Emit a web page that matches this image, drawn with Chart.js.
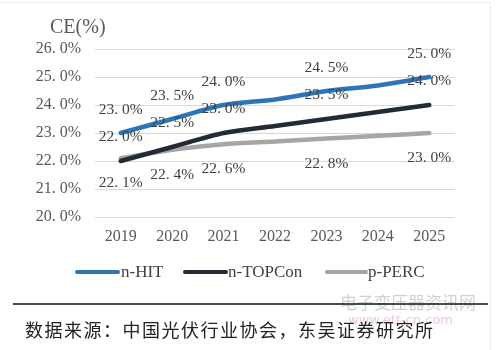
<!DOCTYPE html>
<html><head><meta charset="utf-8">
<script src="https://cdn.jsdelivr.net/npm/chart.js@4"></script>
<style>html,body{margin:0;padding:0;background:#fff}#w{width:500px;height:350px;position:relative}</style>
</head><body><div id="w"><canvas id="c" width="500" height="350"></canvas></div>
<script>
const years = ['2019','2020','2021','2022','2023','2024','2025'];
const hit = [23.0, 23.5, 24.0, 24.2, 24.5, 24.7, 25.0];
const topcon = [22.0, 22.5, 23.0, 23.25, 23.5, 23.75, 24.0];
const perc = [22.1, 22.4, 22.6, 22.7, 22.8, 22.9, 23.0];
const labeledYears = ['2019','2020','2021','2023','2025'];
const yTicks = [20, 21, 22, 23, 24, 25, 26];
const seriesNames = ['n-HIT', 'n-TOPCon', 'p-PERC'];
const axisTitle = 'CE(%)';
const sourceText = '数据来源：中国光伏行业协会，东吴证券研究所';
const watermark1 = '电子变压器资讯网';
const watermark2 = 'www.ett-cn.com';

const fmt = v => v.toFixed(1).replace('.', '. ') + '%';
const SERIF = '"Liberation Serif", "DejaVu Serif", serif';

const decor = {
  id: 'decor',
  afterDatasetsDraw(chart) {
    const ctx = chart.ctx;
    ctx.save();
    ctx.font = '15.5px ' + SERIF;
    ctx.fillStyle = '#404040';
    ctx.textAlign = 'center';
    ctx.textBaseline = 'middle';
    chart.data.datasets.forEach((ds, di) => {
      const meta = chart.getDatasetMeta(di);
      ds.data.forEach((v, i) => {
        if (!labeledYears.includes(chart.data.labels[i])) return;
        const pt = meta.data[i];
        ctx.fillText(fmt(v), pt.x, pt.y + ds.labelOffset);
      });
    });
    ctx.restore();
  },
  afterDraw(chart) {
    const ctx = chart.ctx;
    ctx.save();
    // frame
    ctx.strokeStyle = '#ececec';
    ctx.lineWidth = 1;
    ctx.beginPath();
    ctx.moveTo(0, 2.5); ctx.lineTo(490.5, 2.5); ctx.lineTo(490.5, 350);
    ctx.stroke();
    // axis title
    ctx.font = '20px ' + SERIF;
    ctx.fillStyle = '#595959';
    ctx.textAlign = 'left';
    ctx.textBaseline = 'middle';
    ctx.fillText(axisTitle, 50, 28);
    // legend
    const legendPos = [[77, 118, 121], [185, 226, 228], [327, 366, 368]];
    ctx.font = '17px ' + SERIF;
    ctx.fillStyle = '#404040';
    chart.data.datasets.forEach((ds, di) => {
      const [x0, x1, tx] = legendPos[di];
      ctx.strokeStyle = ds.borderColor;
      ctx.lineWidth = 4;
      ctx.lineCap = 'round';
      ctx.beginPath(); ctx.moveTo(x0, 272); ctx.lineTo(x1, 272); ctx.stroke();
      ctx.fillText(ds.label, tx, 273);
    });
    // watermark
    ctx.font = '17px "Noto Sans CJK SC"';
    ctx.fillStyle = 'rgba(150,150,150,0.45)';
    ctx.fillText(watermark1, 340, 303);
    ctx.font = '13px "DejaVu Sans"';
    ctx.fillStyle = 'rgba(220,140,140,0.45)';
    ctx.fillText(watermark2, 348, 321);
    // rule
    ctx.strokeStyle = '#111';
    ctx.lineWidth = 1.5;
    ctx.lineCap = 'butt';
    ctx.beginPath(); ctx.moveTo(13, 304); ctx.lineTo(488, 304); ctx.stroke();
    // source
    ctx.font = '18px "Noto Sans CJK SC"';
    ctx.fillStyle = '#222';
    if ('letterSpacing' in ctx) ctx.letterSpacing = '1.5px';
    ctx.fillText(sourceText, 25, 330);
    ctx.restore();
  }
};

new Chart(document.getElementById('c'), {
  type: 'line',
  data: {
    labels: years,
    datasets: [
      { label: seriesNames[0], data: hit, borderColor: '#2e75b6', labelOffset: -23 },
      { label: seriesNames[1], data: topcon, borderColor: '#222a35', labelOffset: -24 },
      { label: seriesNames[2], data: perc, borderColor: '#a6a6a6', labelOffset: 25 }
    ].map(d => Object.assign(d, { borderWidth: 4.5, pointRadius: 0, tension: 0.3, fill: false, borderCapStyle: 'round' }))
  },
  options: {
    responsive: false,
    animation: false,
    devicePixelRatio: 1,
    layout: { padding: { left: 0, right: 45, top: 49, bottom: 103 } },
    plugins: { legend: { display: false }, tooltip: { enabled: false }, title: { display: false } },
    scales: {
      x: {
        offset: true,
        grid: { display: false, drawTicks: false },
        border: { display: false },
        ticks: { color: '#595959', font: { family: SERIF, size: 16 }, padding: 10 },
        afterFit(s) { s.height = 30; }
      },
      y: {
        min: 20, max: 26,
        afterBuildTicks(s) { s.ticks = yTicks.map(v => ({ value: v })); },
        grid: { color: '#d9d9d9', lineWidth: 1, drawTicks: false },
        border: { display: false },
        ticks: { color: '#595959', font: { family: SERIF, size: 16 }, padding: 14, callback: v => fmt(v) },
        afterFit(s) { s.width = 95; }
      }
    }
  },
  plugins: [decor]
});
</script></body></html>
